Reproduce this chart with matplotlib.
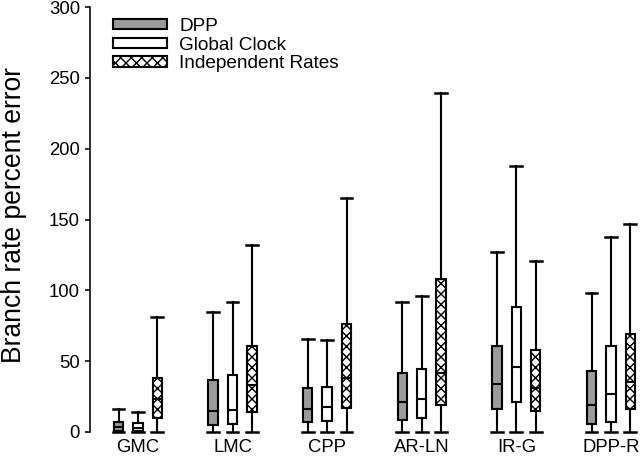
import matplotlib
matplotlib.use("Agg")
import matplotlib.pyplot as plt
from matplotlib.patches import Patch

DPI = 63
def pt(px):
    return px * 72.0 / DPI

plt.rcParams['font.family'] = ['Liberation Sans', 'DejaVu Sans']
plt.rcParams['hatch.linewidth'] = pt(1.4)

categories = ['GMC', 'LMC', 'CPP', 'AR-LN', 'IR-G', 'DPP-R']
series_names = ['DPP', 'Global Clock', 'Independent Rates']

# per-series box statistics (whisker low, Q1, median, Q3, whisker high)
dpp_lo = [0, 0, 0, 0, 0, 0]
dpp_q1 = [1, 5, 7, 8.5, 16, 6]
dpp_med = [3.5, 15, 16, 21, 34, 19]
dpp_q3 = [7, 37, 31, 42, 61, 43]
dpp_hi = [16, 85, 66, 92, 127, 98]

gc_lo = [0, 0, 0, 0, 0, 0]
gc_q1 = [1, 5.5, 8, 10, 21.5, 7]
gc_med = [3, 15.5, 17.5, 23, 46, 26.5]
gc_q3 = [6.5, 40, 31.5, 44.5, 88, 61]
gc_hi = [14, 91.5, 65, 96, 188, 138]

ir_lo = [0, 0, 0, 0, 0, 0]
ir_q1 = [10, 14, 17, 19, 15, 16]
ir_med = [23, 33, 38, 41.5, 31, 35]
ir_q3 = [38, 61, 76, 108, 58, 69]
ir_hi = [81, 132, 165, 239, 121, 147]

yticks = [0, 50, 100, 150, 200, 250, 300]

series = [
    (dpp_lo, dpp_q1, dpp_med, dpp_q3, dpp_hi),
    (gc_lo, gc_q1, gc_med, gc_q3, gc_hi),
    (ir_lo, ir_q1, ir_med, ir_q3, ir_hi),
]
offsets = [-0.205, 0.0, 0.205]
faces = ['#9b9b9b', 'white', 'white']
hatches = [None, None, 'xx']

fig = plt.figure(figsize=(640 / DPI, 460 / DPI), dpi=DPI)
ax = fig.add_axes([90 / 640, 28 / 460, 550 / 640, 425 / 460])

lw = pt(2.1)
for s, (lo, q1, med, q3, hi) in enumerate(series):
    stats = []
    for i in range(len(categories)):
        stats.append(dict(whislo=lo[i], q1=q1[i], med=med[i], q3=q3[i],
                          whishi=hi[i], fliers=[]))
    pos = [i + 1 + offsets[s] for i in range(len(categories))]
    bp = ax.bxp(stats, positions=pos, widths=0.1, capwidths=0.125,
                patch_artist=True, showfliers=False, manage_ticks=False,
                boxprops=dict(facecolor=faces[s], edgecolor='black', linewidth=lw,
                              hatch=hatches[s]),
                medianprops=dict(color='black', linewidth=lw),
                whiskerprops=dict(color='black', linewidth=lw),
                capprops=dict(color='black', linewidth=pt(2.5)))
    for c in bp['caps']:
        c.set_clip_on(False)
    for w in bp['whiskers']:
        w.set_clip_on(False)

ax.set_xlim(0.493, 6.307)
ax.set_ylim(0, 300)
ax.set_yticks(yticks)
ax.set_yticklabels([str(v) for v in yticks])
ax.set_xticks(range(1, len(categories) + 1))
ax.set_xticklabels(categories)
for sp in ['top', 'right', 'bottom']:
    ax.spines[sp].set_visible(False)
ax.spines['left'].set_linewidth(pt(1.6))
ax.tick_params(axis='y', length=pt(5), width=pt(1.6), pad=pt(5), labelsize=pt(18.5))
ax.tick_params(axis='x', length=0, pad=pt(7.5), labelsize=pt(18.5))

fig.text(14 / 640, 1 - 215 / 460, 'Branch rate percent error', rotation=90,
         ha='center', va='center', fontsize=pt(26.5))

handles = [Patch(facecolor=faces[k], edgecolor='black', linewidth=lw, hatch=hatches[k])
           for k in range(3)]
ax.legend(handles, series_names, loc='upper left',
          bbox_to_anchor=(113 / 640, 1 - 18 / 460), bbox_transform=fig.transFigure,
          frameon=False, fontsize=pt(19), borderpad=0, borderaxespad=0,
          handlelength=2.85, handleheight=0.44, handletextpad=0.63, labelspacing=0.085)

fig.savefig('out.png', dpi=DPI)
